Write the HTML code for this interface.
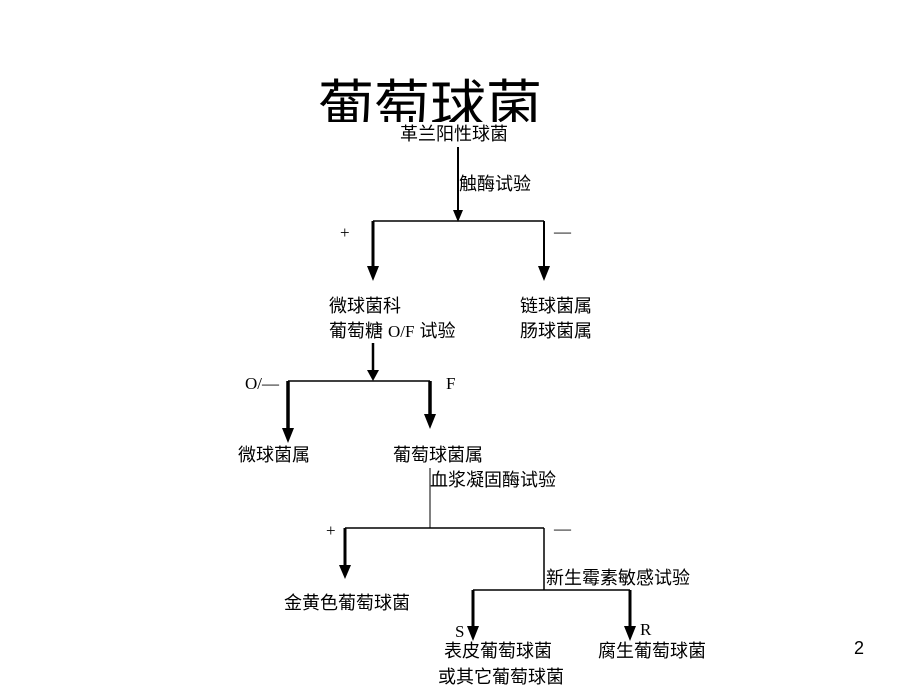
<!DOCTYPE html>
<html><head><meta charset="utf-8"><style>
body{margin:0;background:#fff;}
svg{display:block;}
text{font-family:"Liberation Sans","Noto Sans CJK SC",sans-serif;fill:#000;}
.t{font-size:18px;}
.s{font-family:"Liberation Serif",serif;font-size:17px;}
</style></head><body>
<svg width="920" height="690" viewBox="0 0 920 690">
<defs><clipPath id="c"><rect x="0" y="0" width="920" height="122"/></clipPath></defs>
<text x="318" y="126" font-size="56" clip-path="url(#c)">葡萄球菌</text>
<text class="t" x="400" y="140">革兰阳性球菌</text>
<text class="t" x="459" y="190">触酶试验</text>
<g stroke="#000" fill="none">
<line x1="458" y1="147" x2="458" y2="212" stroke-width="2"/>
<line x1="373" y1="221" x2="544" y2="221" stroke-width="1.5"/>
<line x1="373" y1="221" x2="373" y2="268" stroke-width="3"/>
<line x1="544" y1="221" x2="544" y2="268" stroke-width="2"/>
<line x1="373" y1="343" x2="373" y2="370" stroke-width="2.5"/>
<line x1="288" y1="381" x2="430" y2="381" stroke-width="1.5"/>
<line x1="288" y1="381" x2="288" y2="430" stroke-width="3.5"/>
<line x1="430" y1="381" x2="430" y2="416" stroke-width="3.5"/>
<line x1="430" y1="468" x2="430" y2="528" stroke-width="1"/>
<line x1="345" y1="528" x2="544" y2="528" stroke-width="1.5"/>
<line x1="345" y1="528" x2="345" y2="567" stroke-width="3"/>
<line x1="544" y1="528" x2="544" y2="590" stroke-width="1.5"/>
<line x1="473" y1="590" x2="630" y2="590" stroke-width="1.5"/>
<line x1="473" y1="590" x2="473" y2="628" stroke-width="3"/>
<line x1="630" y1="590" x2="630" y2="628" stroke-width="3"/>
</g>
<g fill="#000">
<polygon points="453,210 463,210 458,222"/>
<polygon points="367,266 379,266 373,281"/>
<polygon points="538,266 550,266 544,281"/>
<polygon points="367,370 379,370 373,381"/>
<polygon points="282,428 294,428 288,443"/>
<polygon points="424,414 436,414 430,429"/>
<polygon points="339,565 351,565 345,579"/>
<polygon points="467,626 479,626 473,641"/>
<polygon points="624,626 636,626 630,641"/>
</g>
<text class="s" x="340" y="238">+</text>
<text class="s" x="554" y="237">—</text>
<text class="t" x="329" y="312">微球菌科</text>
<text class="t" x="329" y="337">葡萄糖 <tspan font-family="Liberation Serif" font-size="17">O/F</tspan> 试验</text>
<text class="t" x="520" y="312">链球菌属</text>
<text class="t" x="520" y="337">肠球菌属</text>
<text class="s" x="245" y="389">O/—</text>
<text class="s" x="446" y="389">F</text>
<text class="t" x="238" y="461">微球菌属</text>
<text class="t" x="393" y="461">葡萄球菌属</text>
<text class="t" x="430" y="486">血浆凝固酶试验</text>
<text class="s" x="326" y="536">+</text>
<text class="s" x="554" y="534">—</text>
<text class="t" x="284" y="609">金黄色葡萄球菌</text>
<text class="t" x="546" y="584">新生霉素敏感试验</text>
<text class="s" x="455" y="637">S</text>
<text class="s" x="640" y="635">R</text>
<text class="t" x="444" y="657">表皮葡萄球菌</text>
<text class="t" x="438" y="683">或其它葡萄球菌</text>
<text class="t" x="598" y="657">腐生葡萄球菌</text>
<text x="854" y="654" font-size="18">2</text>
</svg>
</body></html>
